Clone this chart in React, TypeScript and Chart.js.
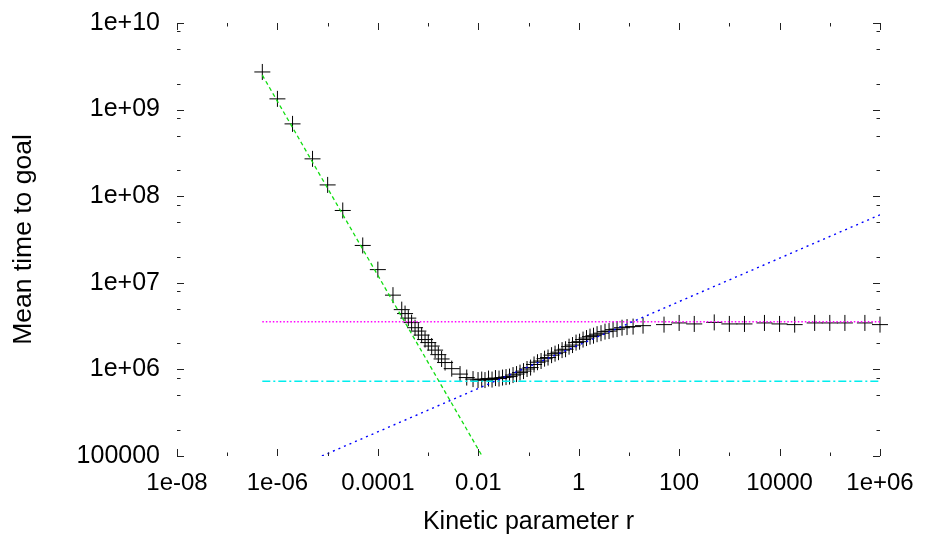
import React, { useEffect, useRef } from 'react';
import { Chart, registerables } from 'chart.js';

Chart.register(...registerables);

// Kinetic parameter r (x) and measured mean time to goal (y)
const rValues = [
  5e-7, 1e-6, 2e-6, 5e-6, 1e-5, 2e-5, 5e-5, 1e-4, 2e-4,
  2.99e-4, 3.48e-4, 4.04e-4, 4.7e-4, 5.5e-4, 6.4e-4, 7.45e-4, 8.7e-4, 1.01e-3, 1.18e-3, 1.38e-3, 1.6e-3, 1.86e-3, 2.18e-3,
  2.96e-3, 4.33e-3, 5.89e-3, 7.86e-3, 9.89e-3, 1.17e-2, 1.36e-2, 1.6e-2, 1.88e-2, 2.2e-2, 2.59e-2, 3.04e-2, 3.57e-2,
  4.19e-2, 4.92e-2, 5.78e-2, 6.78e-2, 7.96e-2, 9.35e-2, 0.11, 0.129, 0.151, 0.178, 0.209, 0.245, 0.288, 0.338, 0.396,
  0.466, 0.547, 0.642, 0.753, 0.885, 1.04, 1.22, 1.43, 1.68, 1.97, 2.32, 2.78, 3.34, 4.02, 4.83, 5.8, 7.29, 9.17, 12.1, 19.1,
  50, 100, 200, 500, 1000, 2000, 5000, 1e4, 2e4, 5e4, 1e5, 2e5, 5e5, 1e6,
];
const meanTimes = [
  2.72e9, 1.33e9, 6.84e8, 2.7e8, 1.35e8, 6.84e7, 2.7e7, 1.42e7, 7.2e6,
  4.9e6, 4.41e6, 3.91e6, 3.47e6, 3.03e6, 2.77e6, 2.49e6, 2.21e6, 2.04e6, 1.86e6, 1.67e6, 1.48e6, 1.32e6, 1.2e6,
  1.02e6, 8.83e5, 8.05e5, 7.73e5, 7.53e5, 7.63e5, 7.53e5, 7.84e5, 7.63e5, 7.94e5, 7.84e5, 8.05e5, 8.15e5,
  8.26e5, 8.6e5, 8.83e5, 9.18e5, 9.55e5, 1.01e6, 1.05e6, 1.14e6, 1.21e6, 1.25e6, 1.33e6, 1.37e6, 1.46e6, 1.52e6, 1.58e6,
  1.67e6, 1.71e6, 1.83e6, 1.91e6, 2.04e6, 2.09e6, 2.21e6, 2.3e6, 2.39e6, 2.45e6, 2.55e6, 2.62e6, 2.73e6, 2.77e6, 2.88e6, 2.92e6, 3.03e6, 3.08e6, 3.12e6, 3.2e6,
  3.29e6, 3.44e6, 3.35e6, 3.49e6, 3.35e6, 3.35e6, 3.44e6, 3.35e6, 3.29e6, 3.44e6, 3.44e6, 3.44e6, 3.44e6, 3.29e6,
];

// Asymptotic lines
const lowRLineX = [5e-7, 1.19e-2];
const lowRLineY = [2.5e9, 1e5];
const highRLineX = [7.7e-6, 1e6];
const highRLineY = [1e5, 6.1e7];
const plateauLineX = [5e-7, 1e6];
const plateauLineY = [3.56e6, 3.56e6];
const minimumLineX = [5e-7, 1e6];
const minimumLineY = [7.3e5, 7.3e5];

// Axis ticks
const xTickValues = [1e-8, 1e-6, 1e-4, 1e-2, 1, 1e2, 1e4, 1e6];
const xTickLabels = ['1e-08', '1e-06', '0.0001', '0.01', '1', '100', '10000', '1e+06'];
const xMinorTickValues = [1e-7, 1e-5, 1e-3, 1e-1, 10, 1e3, 1e5];
const yTickValues = [1e5, 1e6, 1e7, 1e8, 1e9, 1e10];
const yTickLabels = ['100000', '1e+06', '1e+07', '1e+08', '1e+09', '1e+10'];
const yMinorTickValues = [
  2e5, 5e5, 8e5, 2e6, 5e6, 8e6, 2e7, 5e7, 8e7, 2e8, 5e8, 8e8, 2e9, 5e9, 8e9,
];

const FONT = "'Liberation Sans', Arial, Helvetica, sans-serif";

const pts = (xs: number[], ys: number[]) => xs.map((x, i) => ({ x, y: ys[i] }));

const tickMarks = {
  id: 'tickMarks',
  afterDatasetsDraw(chart: any) {
    const { ctx, chartArea, scales } = chart;
    const { left, right, top, bottom } = chartArea;
    const xs = scales.x;
    const ys = scales.y;
    ctx.save();
    ctx.strokeStyle = '#222';
    ctx.lineWidth = 1;
    ctx.beginPath();
    const vx = (v: number, len: number) => {
      const p = Math.round(xs.getPixelForValue(v)) + 0.5;
      ctx.moveTo(p, bottom);
      ctx.lineTo(p, bottom - len);
      ctx.moveTo(p, top);
      ctx.lineTo(p, top + len);
    };
    const hy = (v: number, len: number) => {
      const p = Math.round(ys.getPixelForValue(v)) + 0.5;
      ctx.moveTo(left, p);
      ctx.lineTo(left + len, p);
      ctx.moveTo(right, p);
      ctx.lineTo(right - len, p);
    };
    xTickValues.forEach((v) => vx(v, 7));
    xMinorTickValues.forEach((v) => vx(v, 3.5));
    yTickValues.forEach((v) => hy(v, 7));
    yMinorTickValues.forEach((v) => hy(v, 3.5));
    ctx.stroke();
    ctx.restore();
  },
};

export default function App() {
  const ref = useRef<HTMLCanvasElement>(null);
  useEffect(() => {
    const lineDs = (label: string, xs: number[], ys: number[], color: string, dash: number[], width: number) => ({
      label,
      data: pts(xs, ys),
      showLine: true,
      borderColor: color,
      borderWidth: width,
      borderDash: dash,
      pointRadius: 0,
      fill: false,
      order: 1,
    });
    const chart = new Chart(ref.current!, {
      type: 'scatter',
      data: {
        datasets: [
          {
            label: 'mean time',
            data: pts(rValues, meanTimes),
            showLine: false,
            pointStyle: 'cross',
            pointRadius: 8,
            pointHoverRadius: 8,
            pointBorderColor: '#000',
            pointBackgroundColor: '#000',
            pointBorderWidth: 1,
            order: 5,
            clip: false,
          } as any,
          lineDs('low r', lowRLineX, lowRLineY, '#11dd11', [4, 3], 1.3),
          lineDs('high r', highRLineX, highRLineY, '#0000ff', [2, 4], 1.4),
          lineDs('plateau', plateauLineX, plateauLineY, '#ff00ff', [1.5, 2], 1.5),
          lineDs('minimum', minimumLineX, minimumLineY, '#00eeee', [8, 3, 2, 3], 1.6),
        ],
      },
      options: {
        responsive: false,
        animation: false,
        events: [],
        layout: { padding: { top: 23, right: 45, bottom: 0, left: 0 } },
        plugins: { legend: { display: false }, tooltip: { enabled: false } },
        scales: {
          x: {
            type: 'logarithmic',
            min: 1e-8,
            max: 1e6,
            grid: { display: false, drawTicks: false },
            border: { display: false },
            afterBuildTicks: (s: any) => {
              s.ticks = xTickValues.map((v) => ({ value: v }));
            },
            afterFit: (s: any) => {
              s.height = 86;
              s.paddingLeft = 0;
              s.paddingRight = 0;
            },
            ticks: {
              autoSkip: false,
              maxRotation: 0,
              padding: 13,
              color: '#000',
              font: { family: FONT, size: 24 },
              callback: (_v: any, i: number) => xTickLabels[i],
            },
            title: {
              display: true,
              text: 'Kinetic parameter r',
              color: '#000',
              font: { family: FONT, size: 25 },
              padding: { top: 0, bottom: 5 },
            },
          },
          y: {
            type: 'logarithmic',
            min: 1e5,
            max: 1e10,
            grid: { display: false, drawTicks: false },
            border: { display: false },
            afterBuildTicks: (s: any) => {
              s.ticks = yTickValues.map((v) => ({ value: v }));
            },
            afterFit: (s: any) => {
              s.width = 177;
              s.paddingTop = 0;
              s.paddingBottom = 0;
            },
            ticks: {
              autoSkip: false,
              padding: 17,
              color: '#000',
              font: { family: FONT, size: 25 },
              callback: (_v: any, i: number) => yTickLabels[i],
            },
            title: {
              display: true,
              text: 'Mean time to goal',
              color: '#000',
              font: { family: FONT, size: 26.5 },
              padding: { top: 8, bottom: 0 },
            },
          },
        } as any,
      },
      plugins: [tickMarks],
    });
    return () => chart.destroy();
  }, []);
  return (
    <div style={{ position: 'absolute', left: 0, top: 0, width: 925, height: 542, background: '#fff' }}>
      <canvas ref={ref} width={925} height={542} style={{ display: 'block' }} />
    </div>
  );
}
